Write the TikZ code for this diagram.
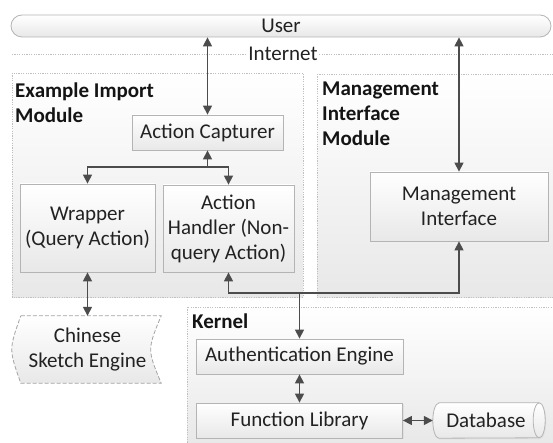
\documentclass[tikz,border=0pt]{standalone}
\usepackage{fontspec}
\setmainfont{Carlito}
\usetikzlibrary{arrows.meta,calc}
\definecolor{txt}{HTML}{222222}
\definecolor{ln}{HTML}{4C4C4C}
\definecolor{bd}{HTML}{B4B4B4}
\definecolor{pnl}{HTML}{C0C0C0}
\definecolor{shade}{HTML}{E8E8E8}
\begin{document}
\begin{tikzpicture}[x=1pt,y=-1pt,
  base font/.style={font=\fontsize{21}{25}\selectfont, text=txt},
  box/.style={base font, draw=bd, line width=0.8pt, top color=white, bottom color=shade,
    preaction={fill=black!12, transform canvas={xshift=1pt,yshift=-1.2pt}},
    align=center, inner sep=0pt},
  panel/.style={draw=pnl, line width=0.8pt, dash pattern=on 1.2pt off 1.2pt, top color=white, bottom color=shade},
  arr/.style={draw=ln, line width=1.4pt, -{Triangle[length=9pt,width=9pt]}},
  darr/.style={draw=ln, line width=1.4pt, {Triangle[length=9pt,width=9pt]}-{Triangle[length=9pt,width=9pt]}},
  title/.style={font=\fontsize{21}{25}\selectfont\bfseries, text=black!92, align=left, anchor=north west, inner sep=0pt}
]
\useasboundingbox (0,0) rectangle (553,443);
\fill[white] (0,0) rectangle (553,443);

% panels
\path[panel] (12,73) rectangle (303,297);
\path[panel] (317,74) rectangle (553,297);
\path[panel] (187,307) rectangle (553,445);

% titles
\node[title] (t1) at (15,82.5) {Example Import\\Module};
\node[title] (t2) at (322,82) {Management\\Interface\\Module};
\node[title] (t3) at (192,313.5) {Kernel};

% user bar
\node[base font, draw=bd, line width=0.8pt, top color=white, bottom color=shade,
  rounded corners=11pt, minimum width=540pt, minimum height=22pt, inner sep=0pt] (user) at (281,26) {User};

% internet line
\draw[pnl, line width=0.8pt, dash pattern=on 1.2pt off 1.2pt] (12,54) -- (553,54);
\node[base font, fill=white, inner sep=1.5pt] (inet) at (283,54) {Internet};

% boxes
\node[box, minimum width=151pt, minimum height=35pt] (AC) at (207.5,132.5) {Action Capturer};
\node[box, minimum width=135pt, minimum height=88pt] (W) at (87.5,228) {Wrapper\\(Query Action)};
\node[box, minimum width=131pt, minimum height=87pt] (AH) at (228.5,228.5) {Action\\Handler (Non-\\query Action)};
\node[box, minimum width=178pt, minimum height=69pt] (MI) at (459,206.5) {Management\\Interface};
\node[box, minimum width=207pt, minimum height=35pt] (auth) at (299.5,356.5) {Authentication Engine};
\node[box, minimum width=206pt, minimum height=35pt] (FL) at (299.5,420.5) {Function Library};

% database cylinder (drawn by hand around an undrawn node)
\node[minimum width=112pt, minimum height=35pt, inner sep=0pt] (DB) at (489,420.5) {};
\path[draw=bd, line width=0.8pt, top color=white, bottom color=shade,
    preaction={fill=black!12, transform canvas={xshift=1pt,yshift=-1.2pt}}]
  ($(DB.north west)+(6,0)$) -- ($(DB.north east)+(-6,0)$)
  arc[start angle=-90, end angle=90, x radius=6, y radius=17.5]
  -- ($(DB.south west)+(6,0)$)
  arc[start angle=90, end angle=270, x radius=6, y radius=17.5] -- cycle;
\draw[bd, line width=0.8pt] ($(DB.north east)+(-6,0)$)
  arc[start angle=270, end angle=90, x radius=6, y radius=17.5];
\node[base font] (DBt) at ($(DB)+(-3,0)$) {Database};

% Chinese Sketch Engine (stored data)
\node[minimum width=147pt, minimum height=67pt, inner sep=0pt] (CSE) at (87.5,349.5) {};
\path[draw=pnl!85!black, line width=0.8pt, dash pattern=on 4pt off 2pt, top color=white, bottom color=shade]
  ($(CSE.north west)+(7,0)$) -- (CSE.north east)
  .. controls ($(CSE.east)+(-14,0)$) .. (CSE.south east)
  -- ($(CSE.south west)+(7,0)$)
  .. controls ($(CSE.west)+(-5,0)$) .. cycle;
\node[base font, align=center] (CSEt) at (CSE) {Chinese\\Sketch Engine};

% connectors
\draw[darr] (user.south -| AC) -- (AC);
\draw[darr] (user.south -| MI) -- (MI);
\coordinate (j1) at (207.5,167);
\draw[arr] (j1) -- (AC);
\draw[arr] (j1) -| (W);
\draw[arr] (j1) -| (AH);
\draw[darr] (W) -- (CSE);
\coordinate (j2) at (299.5,293);
\draw[arr] (j2) -| (AH);
\draw[arr] (j2) -| (MI);
\draw[arr] (j2) -- (auth);
\draw[darr] (auth) -- (FL);
\draw[darr] (FL) -- (DB);
\end{tikzpicture}
\end{document}
